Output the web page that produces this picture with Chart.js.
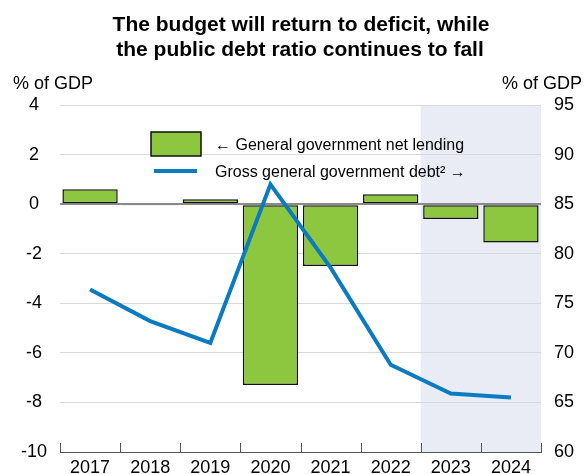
<!DOCTYPE html>
<html>
<head>
<meta charset="utf-8">
<script src="https://cdn.jsdelivr.net/npm/chart.js@4/dist/chart.umd.min.js"></script>
<style>
html,body{margin:0;padding:0;background:#fff;overflow:hidden;}
#wrap{width:584px;height:474px;position:relative;}
canvas{display:block;}
</style>
</head>
<body>
<div id="wrap"><canvas id="c" width="584" height="474" style="width:584px;height:474px"></canvas></div>
<script>
const years = ['2017','2018','2019','2020','2021','2022','2023','2024'];
const netLending = [0.6, -0.05, 0.2, -7.3, -2.5, 0.4, -0.6, -1.55];
const grossDebt = [76.4, 73.2, 71.0, 87.0, 78.6, 68.8, 65.9, 65.5];
const leftTicks = [-10, -8, -6, -4, -2, 0, 2, 4];
const rightTicks = [60, 65, 70, 75, 80, 85, 90, 95];
const titleLines = ['The budget will return to deficit, while', 'the public debt ratio continues to fall'];
const legendLabels = ['\u2190 General government net lending', 'Gross general government debt\u00B2 \u2192'];
const axisTitle = '% of GDP';
const projectionStart = 6; // index of first projected year

const GREEN = '#8dc63f';
const BLUE = '#0b7bc1';
const FONT = '"Liberation Sans", Arial, sans-serif';

const decor = {
  id: 'decor',
  beforeDraw(chart) {
    const {ctx, chartArea: a, scales: {x}} = chart;
    const half = (x.getPixelForValue(1) - x.getPixelForValue(0)) / 2;
    const sx = x.getPixelForValue(projectionStart) - half;
    ctx.save();
    ctx.fillStyle = '#e9ecf5';
    ctx.fillRect(sx, a.top, a.right - sx, a.bottom - a.top);
    ctx.restore();
  },
  afterDraw(chart) {
    const {ctx, chartArea: a, scales: {x}} = chart;
    ctx.save();
    // title
    ctx.fillStyle = '#000';
    ctx.textAlign = 'center';
    ctx.textBaseline = 'alphabetic';
    ctx.font = 'bold 21px ' + FONT;
    ctx.fillText(titleLines[0], 301, 31);
    ctx.fillText(titleLines[1], 300, 56);
    // axis titles
    ctx.font = '18px ' + FONT;
    ctx.textAlign = 'left';
    ctx.fillText(axisTitle, 13, 89);
    ctx.textAlign = 'right';
    ctx.fillText(axisTitle, 582, 89);
    // x ticks (upward, at category boundaries)
    const half = (x.getPixelForValue(1) - x.getPixelForValue(0)) / 2;
    ctx.strokeStyle = '#555';
    ctx.lineWidth = 1;
    for (let i = 0; i <= years.length; i++) {
      const px = Math.round(x.getPixelForValue(i) - half) + 0.5;
      ctx.beginPath();
      ctx.moveTo(px, a.bottom);
      ctx.lineTo(px, a.bottom - 9);
      ctx.stroke();
    }
    // legend
    ctx.fillStyle = GREEN;
    ctx.fillRect(151, 132, 50, 24);
    ctx.strokeStyle = '#111';
    ctx.lineWidth = 1.5;
    ctx.strokeRect(151, 132, 50, 24);
    ctx.strokeStyle = BLUE;
    ctx.lineWidth = 4;
    ctx.beginPath();
    ctx.moveTo(154, 171);
    ctx.lineTo(197, 171);
    ctx.stroke();
    ctx.fillStyle = '#000';
    ctx.textAlign = 'left';
    ctx.font = '16px ' + FONT;
    ctx.fillText(legendLabels[0], 215, 150);
    ctx.fillText(legendLabels[1], 215, 177);
    ctx.restore();
  }
};

function noPad(s) { s.paddingTop = 0; s.paddingBottom = 0; }

new Chart(document.getElementById('c'), {
  data: {
    labels: years,
    datasets: [
      {
        type: 'line',
        label: legendLabels[1],
        data: grossDebt,
        yAxisID: 'y2',
        borderColor: BLUE,
        borderWidth: 4,
        pointRadius: 0,
        tension: 0,
        order: 0
      },
      {
        type: 'bar',
        label: legendLabels[0],
        data: netLending,
        yAxisID: 'y',
        backgroundColor: GREEN,
        borderColor: '#111',
        borderWidth: 1.5,
        borderSkipped: false,
        barPercentage: 0.92,
        categoryPercentage: 1,
        order: 1
      }
    ]
  },
  options: {
    responsive: false,
    animation: false,
    devicePixelRatio: 1,
    layout: {padding: {top: 105, left: 0, right: 0, bottom: 0}},
    plugins: {legend: {display: false}, title: {display: false}, tooltip: {enabled: false}},
    scales: {
      x: {
        offset: true,
        grid: {display: false, drawTicks: false, offset: true},
        border: {display: true, color: '#555', width: 1},
        ticks: {color: '#000', font: {family: FONT, size: 18}, padding: 5, maxRotation: 0},
        afterFit(s) { s.height = 22; s.paddingLeft = 0; s.paddingRight = 0; }
      },
      y: {
        position: 'left',
        min: -10, max: 4,
        afterBuildTicks(s) { s.ticks = leftTicks.map(v => ({value: v})); },
        grid: {
          drawTicks: false,
          color: ctx => ctx.tick.value === 0 ? '#8a8a8a' : '#d9d9d9',
          lineWidth: ctx => ctx.tick.value === 0 ? 2 : 1
        },
        border: {display: false},
        ticks: {color: '#000', font: {family: FONT, size: 18}, padding: 13, crossAlign: 'center'},
        afterFit(s) { s.width = 60; noPad(s); }
      },
      y2: {
        position: 'right',
        min: 60, max: 95,
        afterBuildTicks(s) { s.ticks = rightTicks.map(v => ({value: v})); },
        grid: {display: false, drawTicks: false},
        border: {display: false},
        ticks: {color: '#000', font: {family: FONT, size: 18}, padding: 13},
        afterFit(s) { s.width = 43; noPad(s); }
      }
    }
  },
  plugins: [decor]
});
</script>
</body>
</html>
